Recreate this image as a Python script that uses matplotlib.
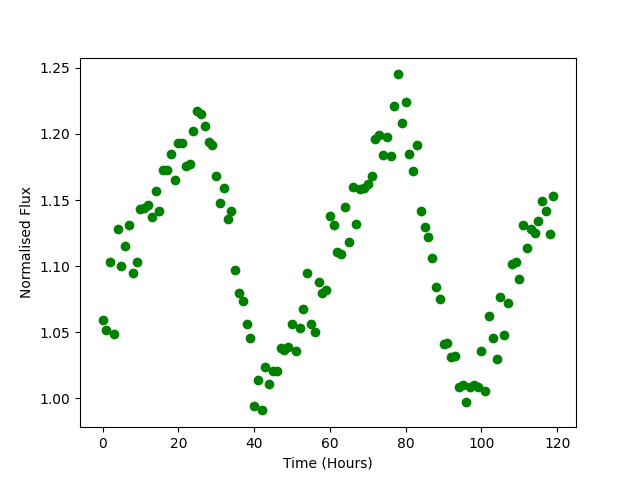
import matplotlib
matplotlib.use("Agg")
import matplotlib.pyplot as plt
import numpy as np

# Data: one reading per hour
hours = np.arange(120)
flux = [
    1.059, 1.052, 1.103, 1.049, 1.128, 1.100, 1.115, 1.131, 1.095, 1.103,
    1.143, 1.144, 1.146, 1.137, 1.157, 1.142, 1.173, 1.173, 1.185, 1.165,
    1.193, 1.193, 1.176, 1.177, 1.202, 1.217, 1.215, 1.206, 1.194, 1.192,
    1.168, 1.148, 1.159, 1.136, 1.142, 1.097, 1.080, 1.074, 1.056, 1.046,
    0.994, 1.014, 0.991, 1.024, 1.011, 1.021, 1.021, 1.038, 1.037, 1.039,
    1.056, 1.036, 1.053, 1.068, 1.095, 1.056, 1.050, 1.088, 1.080, 1.082,
    1.138, 1.131, 1.111, 1.109, 1.145, 1.118, 1.160, 1.132, 1.158, 1.159,
    1.162, 1.168, 1.196, 1.199, 1.184, 1.198, 1.183, 1.221, 1.245, 1.208,
    1.224, 1.185, 1.172, 1.192, 1.142, 1.130, 1.122, 1.106, 1.084, 1.075,
    1.041, 1.042, 1.031, 1.032, 1.009, 1.010, 0.997, 1.009, 1.010, 1.009,
    1.036, 1.006, 1.062, 1.046, 1.030, 1.077, 1.048, 1.072, 1.102, 1.103,
    1.090, 1.131, 1.114, 1.128, 1.125, 1.134, 1.149, 1.142, 1.124, 1.153,
]

plt.figure(figsize=(6.4, 4.8), dpi=100)
plt.plot(hours, flux, "o", color="green")

plt.xlabel("Time (Hours)")
plt.ylabel("Normalised Flux")

plt.savefig("out.png")
